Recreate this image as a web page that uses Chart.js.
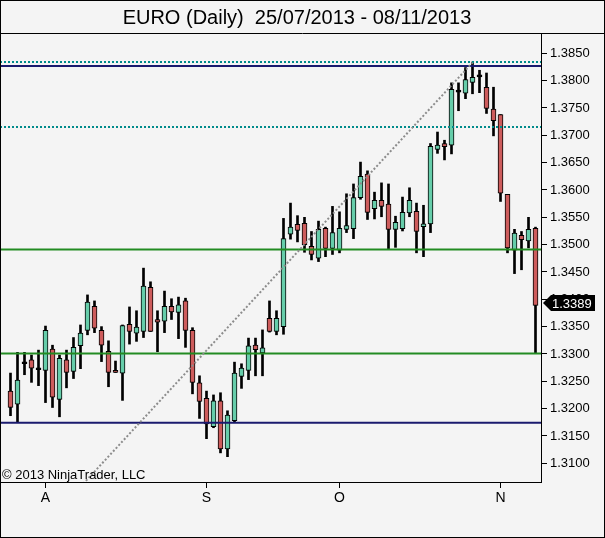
<!DOCTYPE html>
<html>
<head>
<meta charset="utf-8">
<title>EURO (Daily)</title>
<script src="https://cdn.jsdelivr.net/npm/chart.js@4.4.0/dist/chart.umd.min.js"></script>
<style>
  html, body { margin: 0; padding: 0; background: #f4f4f4; }
  canvas { display: block; }
</style>
</head>
<body>
<canvas id="euroChart" width="605" height="538"></canvas>
<script>
// daily EUR candles, 25/07/2013 - 08/11/2013
var opens = [
  1.3232, 1.3208, 1.3282, 1.3289, 1.3271, 1.3270, 1.3309, 1.3217, 1.3289, 1.3268,
  1.3315, 1.3343, 1.3387, 1.3343, 1.3305, 1.3270, 1.3265, 1.3354, 1.3338, 1.3341,
  1.3422, 1.3363, 1.3360, 1.3387, 1.3376, 1.3397, 1.3343, 1.3247, 1.3219, 1.3167,
  1.3214, 1.3126, 1.3178, 1.3259, 1.3270, 1.3316, 1.3302, 1.3365, 1.3341, 1.3350,
  1.3519, 1.3537, 1.3539, 1.3497, 1.3475, 1.3530, 1.3493, 1.3490, 1.3528, 1.3529,
  1.3586, 1.3629, 1.3566, 1.3581, 1.3574, 1.3528, 1.3529, 1.3558, 1.3561, 1.3533,
  1.3538, 1.3674, 1.3685, 1.3682, 1.3779, 1.3777, 1.3797, 1.3807, 1.3788, 1.3748,
  1.3738, 1.3592, 1.3490, 1.3517, 1.3507, 1.3530
];
var highs = [
  1.3265, 1.3303, 1.3303, 1.3298, 1.3307, 1.3351, 1.3316, 1.3298, 1.3307, 1.3330,
  1.3353, 1.3408, 1.3397, 1.3350, 1.3324, 1.3287, 1.3353, 1.3386, 1.3379, 1.3457,
  1.3432, 1.3379, 1.3415, 1.3401, 1.3404, 1.3402, 1.3348, 1.3260, 1.3232, 1.3225,
  1.3229, 1.3196, 1.3285, 1.3282, 1.3329, 1.3329, 1.3344, 1.3397, 1.3379, 1.3548,
  1.3576, 1.3553, 1.3550, 1.3524, 1.3543, 1.3532, 1.3570, 1.3560, 1.3593, 1.3611,
  1.3651, 1.3635, 1.3596, 1.3613, 1.3611, 1.3552, 1.3587, 1.3604, 1.3576, 1.3572,
  1.3685, 1.3706, 1.3691, 1.3796, 1.3796, 1.3824, 1.3834, 1.3819, 1.3814, 1.3788,
  1.3738, 1.3592, 1.3528, 1.3524, 1.3550, 1.3532
];
var lows = [
  1.3187, 1.3175, 1.3262, 1.3248, 1.3242, 1.3211, 1.3202, 1.3185, 1.3238, 1.3255,
  1.3273, 1.3335, 1.3339, 1.3286, 1.3240, 1.3266, 1.3215, 1.3318, 1.3323, 1.3330,
  1.3341, 1.3304, 1.3339, 1.3363, 1.3328, 1.3312, 1.3227, 1.3182, 1.3145, 1.3165,
  1.3119, 1.3112, 1.3176, 1.3237, 1.3253, 1.3260, 1.3260, 1.3340, 1.3335, 1.3336,
  1.3510, 1.3505, 1.3486, 1.3472, 1.3469, 1.3478, 1.3482, 1.3485, 1.3522, 1.3511,
  1.3583, 1.3546, 1.3547, 1.3551, 1.3491, 1.3495, 1.3525, 1.3551, 1.3485, 1.3478,
  1.3522, 1.3667, 1.3655, 1.3666, 1.3745, 1.3767, 1.3776, 1.3778, 1.3740, 1.3699,
  1.3579, 1.3485, 1.3447, 1.3454, 1.3494, 1.3301
];
var closes = [
  1.3202, 1.3252, 1.3282, 1.3274, 1.3271, 1.3343, 1.3221, 1.3292, 1.3266, 1.3312,
  1.3338, 1.3395, 1.3347, 1.3316, 1.3266, 1.3266, 1.3352, 1.3341, 1.3349, 1.3424,
  1.3341, 1.3358, 1.3387, 1.3377, 1.3390, 1.3343, 1.3248, 1.3213, 1.3172, 1.3214,
  1.3126, 1.3188, 1.3265, 1.3274, 1.3315, 1.3308, 1.3311, 1.3341, 1.3365, 1.3511,
  1.3532, 1.3526, 1.3500, 1.3482, 1.3528, 1.3493, 1.3522, 1.3530, 1.3535, 1.3586,
  1.3625, 1.3559, 1.3581, 1.3570, 1.3528, 1.3541, 1.3559, 1.3581, 1.3524, 1.3538,
  1.3680, 1.3682, 1.3679, 1.3784, 1.3779, 1.3802, 1.3806, 1.3807, 1.3749, 1.3727,
  1.3594, 1.3494, 1.3521, 1.3509, 1.3528, 1.3389
];

var monthTickIndex = [5, 28, 47, 70];
var monthTickLabels = ['A', 'S', 'O', 'N'];
var priceTicks = [
  1.3100, 1.3150, 1.3200, 1.3250, 1.3300, 1.3350, 1.3400, 1.3450,
  1.3500, 1.3550, 1.3600, 1.3650, 1.3700, 1.3750, 1.3800, 1.3850
];

// drawn levels
var dottedLevels = [1.3834, 1.3715];
var blueLevels = [1.3827, 1.3174];
var greenLevels = [1.3491, 1.3301];
var trendX = [10, 66];
var trendY = [1.3057, 1.3833];

var chartTitle = 'EURO (Daily)  25/07/2013 - 08/11/2013';
var copyright = '\u00A9 2013 NinjaTrader, LLC';

document.addEventListener('DOMContentLoaded', function () {
    var fontFamily = '"Liberation Sans", Arial, sans-serif';
    Chart.defaults.font.family = fontFamily;
    Chart.defaults.color = '#000';

    var xMin = -1.5;
    var xMax = 75.7857;
    var yMin = 1.30657;
    var yMax = 1.38872;

    var upColor = '#66cdaa';
    var downColor = '#cd5c5c';

    var bodies = opens.map(function (o, i) { return { x: i, y: [o, closes[i]] }; });
    var wicks = lows.map(function (l, i) { return { x: i, y: [l, highs[i]] }; });
    var bodyColors = opens.map(function (o, i) {
        if (closes[i] > o) return upColor;
        if (closes[i] < o) return downColor;
        return '#000';
    });

    function levelSet(values, color, dash) {
        return values.map(function (v) {
            return {
                type: 'line',
                data: [{ x: xMin, y: v }, { x: xMax, y: v }],
                borderColor: color,
                borderWidth: 2,
                borderDash: dash,
                pointRadius: 0,
                order: 0
            };
        });
    }

    var datasets = [
        {
            type: 'bar',
            label: 'body',
            data: bodies,
            backgroundColor: bodyColors,
            borderColor: '#000',
            borderWidth: 1,
            borderSkipped: false,
            barThickness: 5,
            minBarLength: 2,
            grouped: false,
            order: 1
        },
        {
            type: 'bar',
            label: 'wick',
            data: wicks,
            backgroundColor: '#000',
            borderWidth: 0,
            barThickness: 2,
            grouped: false,
            order: 2
        },
        {
            type: 'line',
            data: [{ x: trendX[0], y: trendY[0] }, { x: trendX[1], y: trendY[1] }],
            borderColor: '#8c8c8c',
            borderWidth: 2,
            borderDash: [2, 2],
            pointRadius: 0,
            order: 0
        }
    ]
        .concat(levelSet(dottedLevels, '#008b8b', [2, 2]))
        .concat(levelSet(blueLevels, '#1a1a6e', []))
        .concat(levelSet(greenLevels, '#228b22', []));

    // title, top rule, copyright, last price box and frame
    var chartDecor = {
        id: 'chartDecor',
        beforeDraw: function (chart) {
            var c = chart.ctx;
            c.save();
            c.fillStyle = '#f4f4f4';
            c.fillRect(0, 0, chart.width, chart.height);
            c.restore();
        },
        afterDraw: function (chart) {
            var c = chart.ctx;
            var area = chart.chartArea;
            c.save();
            c.fillStyle = '#000';
            c.font = '20px ' + fontFamily;
            c.textAlign = 'center';
            c.textBaseline = 'alphabetic';
            c.fillText(chartTitle, 297, 24);

            c.strokeStyle = '#000';
            c.lineWidth = 1;
            c.beginPath();
            c.moveTo(0, area.top + 0.5);
            c.lineTo(chart.width, area.top + 0.5);
            c.stroke();

            c.font = '13px ' + fontFamily;
            c.textAlign = 'left';
            c.fillText(copyright, 2, area.bottom - 3);

            var last = closes[closes.length - 1];
            var py = Math.round(chart.scales.y.getPixelForValue(last)) - 2;
            var x0 = area.right + 2;
            c.beginPath();
            c.moveTo(x0, py);
            c.lineTo(x0 + 8, py - 8);
            c.lineTo(chart.width - 10, py - 8);
            c.lineTo(chart.width - 10, py + 8);
            c.lineTo(x0 + 8, py + 8);
            c.closePath();
            c.fill();
            c.fillStyle = '#fff';
            c.textBaseline = 'middle';
            c.fillText(last.toFixed(4), x0 + 9, py + 1);

            c.strokeStyle = '#000';
            c.strokeRect(0.5, 0.5, chart.width - 1, chart.height - 1);
            c.restore();
        }
    };

    var ctx = document.getElementById('euroChart').getContext('2d');
    var euroChart = new Chart(ctx, {
        type: 'bar',
        data: { datasets: datasets },
        plugins: [chartDecor],
        options: {
            responsive: false,
            animation: false,
            devicePixelRatio: 1,
            layout: { padding: { top: 33, left: 0, right: 0, bottom: 0 } },
            plugins: {
                legend: { display: false },
                tooltip: { enabled: false },
                title: { display: false }
            },
            scales: {
                x: {
                    type: 'linear',
                    min: xMin,
                    max: xMax,
                    offset: false,
                    afterBuildTicks: function (axis) {
                        axis.ticks = monthTickIndex.map(function (v) { return { value: v }; });
                    },
                    afterFit: function (axis) { axis.height = 56; },
                    ticks: {
                        autoSkip: false,
                        maxRotation: 0,
                        padding: 2,
                        font: { size: 14 },
                        color: '#000',
                        callback: function (value) {
                            var k = monthTickIndex.indexOf(value);
                            return k >= 0 ? monthTickLabels[k] : '';
                        }
                    },
                    grid: { drawOnChartArea: false, offset: false, tickLength: 6, color: '#000' },
                    border: { display: true, color: '#000', width: 1 }
                },
                y: {
                    type: 'linear',
                    position: 'right',
                    min: yMin,
                    max: yMax,
                    afterBuildTicks: function (axis) {
                        axis.ticks = priceTicks.map(function (v) { return { value: v }; });
                    },
                    afterFit: function (axis) { axis.width = 64; },
                    ticks: {
                        autoSkip: false,
                        padding: 3,
                        font: { size: 13 },
                        color: '#000',
                        callback: function (value) { return value.toFixed(4); }
                    },
                    grid: { drawOnChartArea: false, tickLength: 6, color: '#000' },
                    border: { display: true, color: '#000', width: 1 }
                }
            }
        }
    });
});
</script>
</body>
</html>
